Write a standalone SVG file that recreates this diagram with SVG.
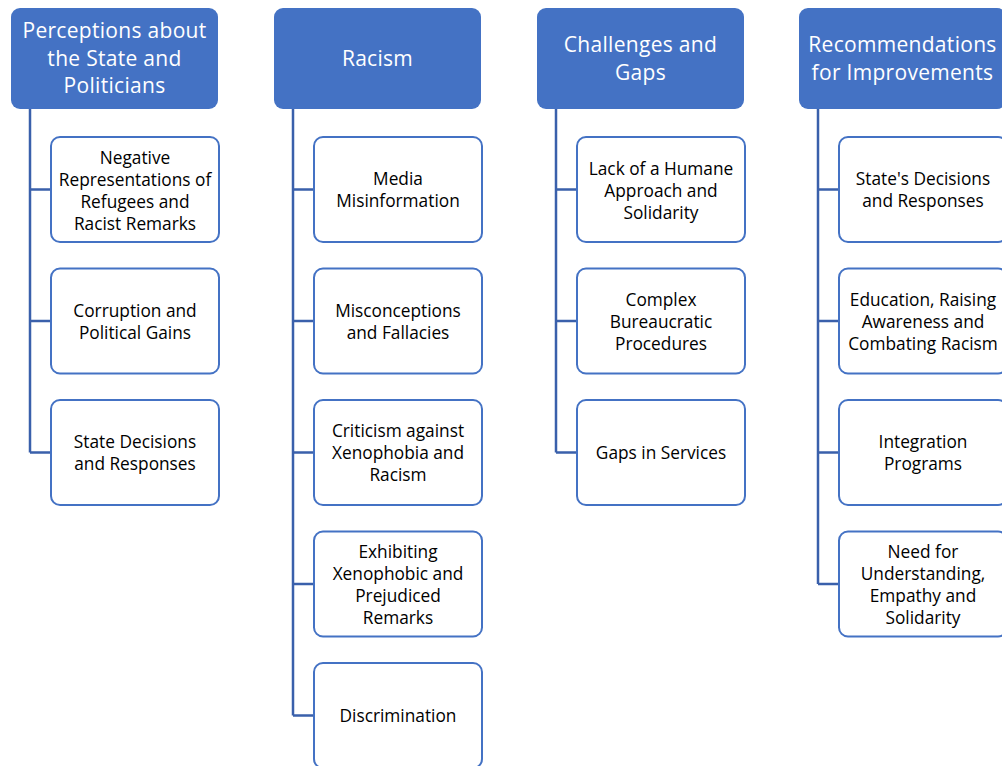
<svg xmlns="http://www.w3.org/2000/svg" width="1002" height="766" viewBox="0 0 1002 766">
  <style>
    text { font-family: "Open Sans", "Noto Sans", "Liberation Sans", sans-serif; text-anchor: middle; dominant-baseline: central; font-variant-ligatures: none; }
    .head rect { fill: #4472C4; }
    .head text { fill: #FFFFFF; font-size: 21px; letter-spacing: 0.3px; }
    .item rect { fill: #FFFFFF; stroke: #4472C4; stroke-width: 2; }
    .item text { fill: #000000; font-size: 17.3px; }
    #connectors path { fill: none; stroke: #3A60AB; stroke-width: 2.5; }
  </style>
  <rect width="1002" height="766" fill="#FFFFFF"/>

  <!-- tree lines: one trunk per column with a branch into each item -->
  <g id="connectors">
    <path d="M30 109 V452.5 M30 189.5 H51 M30 321 H51 M30 452.5 H51"/>
    <path d="M293 109 V715.5 M293 189.5 H314 M293 321 H314 M293 452.5 H314 M293 584 H314 M293 715.5 H314"/>
    <path d="M556 109 V452.5 M556 189.5 H577 M556 321 H577 M556 452.5 H577"/>
    <path d="M818 109 V584 M818 189.5 H839 M818 321 H839 M818 452.5 H839 M818 584 H839"/>
  </g>

  <!-- column 1 -->
  <g id="perceptions" class="head">
    <rect x="11" y="8" width="207" height="101" rx="9"/>
    <text x="114.5" y="30">Perceptions about</text>
    <text x="114.5" y="58">the State and</text>
    <text x="114.5" y="85">Politicians</text>
  </g>
  <g id="negative-representations" class="item">
    <rect x="51" y="137" width="168" height="105" rx="9"/>
    <text x="135" y="157">Negative</text>
    <text x="135" y="179">Representations of</text>
    <text x="135" y="201">Refugees and</text>
    <text x="135" y="223">Racist Remarks</text>
  </g>
  <g id="corruption" class="item">
    <rect x="51" y="268.5" width="168" height="105" rx="9"/>
    <text x="135" y="310">Corruption and</text>
    <text x="135" y="332">Political Gains</text>
  </g>
  <g id="state-decisions" class="item">
    <rect x="51" y="400" width="168" height="105" rx="9"/>
    <text x="135" y="441.5">State Decisions</text>
    <text x="135" y="463.5">and Responses</text>
  </g>

  <!-- column 2 -->
  <g id="racism" class="head">
    <rect x="274" y="8" width="207" height="101" rx="9"/>
    <text x="377.5" y="58">Racism</text>
  </g>
  <g id="media-misinformation" class="item">
    <rect x="314" y="137" width="168" height="105" rx="9"/>
    <text x="398" y="178.5">Media</text>
    <text x="398" y="200.5">Misinformation</text>
  </g>
  <g id="misconceptions" class="item">
    <rect x="314" y="268.5" width="168" height="105" rx="9"/>
    <text x="398" y="310">Misconceptions</text>
    <text x="398" y="332">and Fallacies</text>
  </g>
  <g id="criticism" class="item">
    <rect x="314" y="400" width="168" height="105" rx="9"/>
    <text x="398" y="430.5">Criticism against</text>
    <text x="398" y="452.5">Xenophobia and</text>
    <text x="398" y="474.5">Racism</text>
  </g>
  <g id="xenophobic-remarks" class="item">
    <rect x="314" y="531.5" width="168" height="105" rx="9"/>
    <text x="398" y="551">Exhibiting</text>
    <text x="398" y="573">Xenophobic and</text>
    <text x="398" y="595">Prejudiced</text>
    <text x="398" y="617">Remarks</text>
  </g>
  <g id="discrimination" class="item">
    <rect x="314" y="663" width="168" height="105" rx="9"/>
    <text x="398" y="715">Discrimination</text>
  </g>

  <!-- column 3 -->
  <g id="challenges" class="head">
    <rect x="537" y="8" width="207" height="101" rx="9"/>
    <text x="640.5" y="44">Challenges and</text>
    <text x="640.5" y="72">Gaps</text>
  </g>
  <g id="humane-approach" class="item">
    <rect x="577" y="137" width="168" height="105" rx="9"/>
    <text x="661" y="168">Lack of a Humane</text>
    <text x="661" y="190">Approach and</text>
    <text x="661" y="212">Solidarity</text>
  </g>
  <g id="bureaucracy" class="item">
    <rect x="577" y="268.5" width="168" height="105" rx="9"/>
    <text x="661" y="299">Complex</text>
    <text x="661" y="321">Bureaucratic</text>
    <text x="661" y="343">Procedures</text>
  </g>
  <g id="service-gaps" class="item">
    <rect x="577" y="400" width="168" height="105" rx="9"/>
    <text x="661" y="452.5">Gaps in Services</text>
  </g>

  <!-- column 4 -->
  <g id="recommendations" class="head">
    <rect x="799" y="8" width="207" height="101" rx="9"/>
    <text x="902.5" y="44">Recommendations</text>
    <text x="902.5" y="72">for Improvements</text>
  </g>
  <g id="state-responses" class="item">
    <rect x="839" y="137" width="168" height="105" rx="9"/>
    <text x="923" y="178.5">State's Decisions</text>
    <text x="923" y="200.5">and Responses</text>
  </g>
  <g id="education" class="item">
    <rect x="839" y="268.5" width="168" height="105" rx="9"/>
    <text x="923" y="299">Education, Raising</text>
    <text x="923" y="321">Awareness and</text>
    <text x="923" y="343">Combating Racism</text>
  </g>
  <g id="integration" class="item">
    <rect x="839" y="400" width="168" height="105" rx="9"/>
    <text x="923" y="441.5">Integration</text>
    <text x="923" y="463.5">Programs</text>
  </g>
  <g id="understanding" class="item">
    <rect x="839" y="531.5" width="168" height="105" rx="9"/>
    <text x="923" y="551">Need for</text>
    <text x="923" y="573">Understanding,</text>
    <text x="923" y="595">Empathy and</text>
    <text x="923" y="617">Solidarity</text>
  </g>
</svg>
